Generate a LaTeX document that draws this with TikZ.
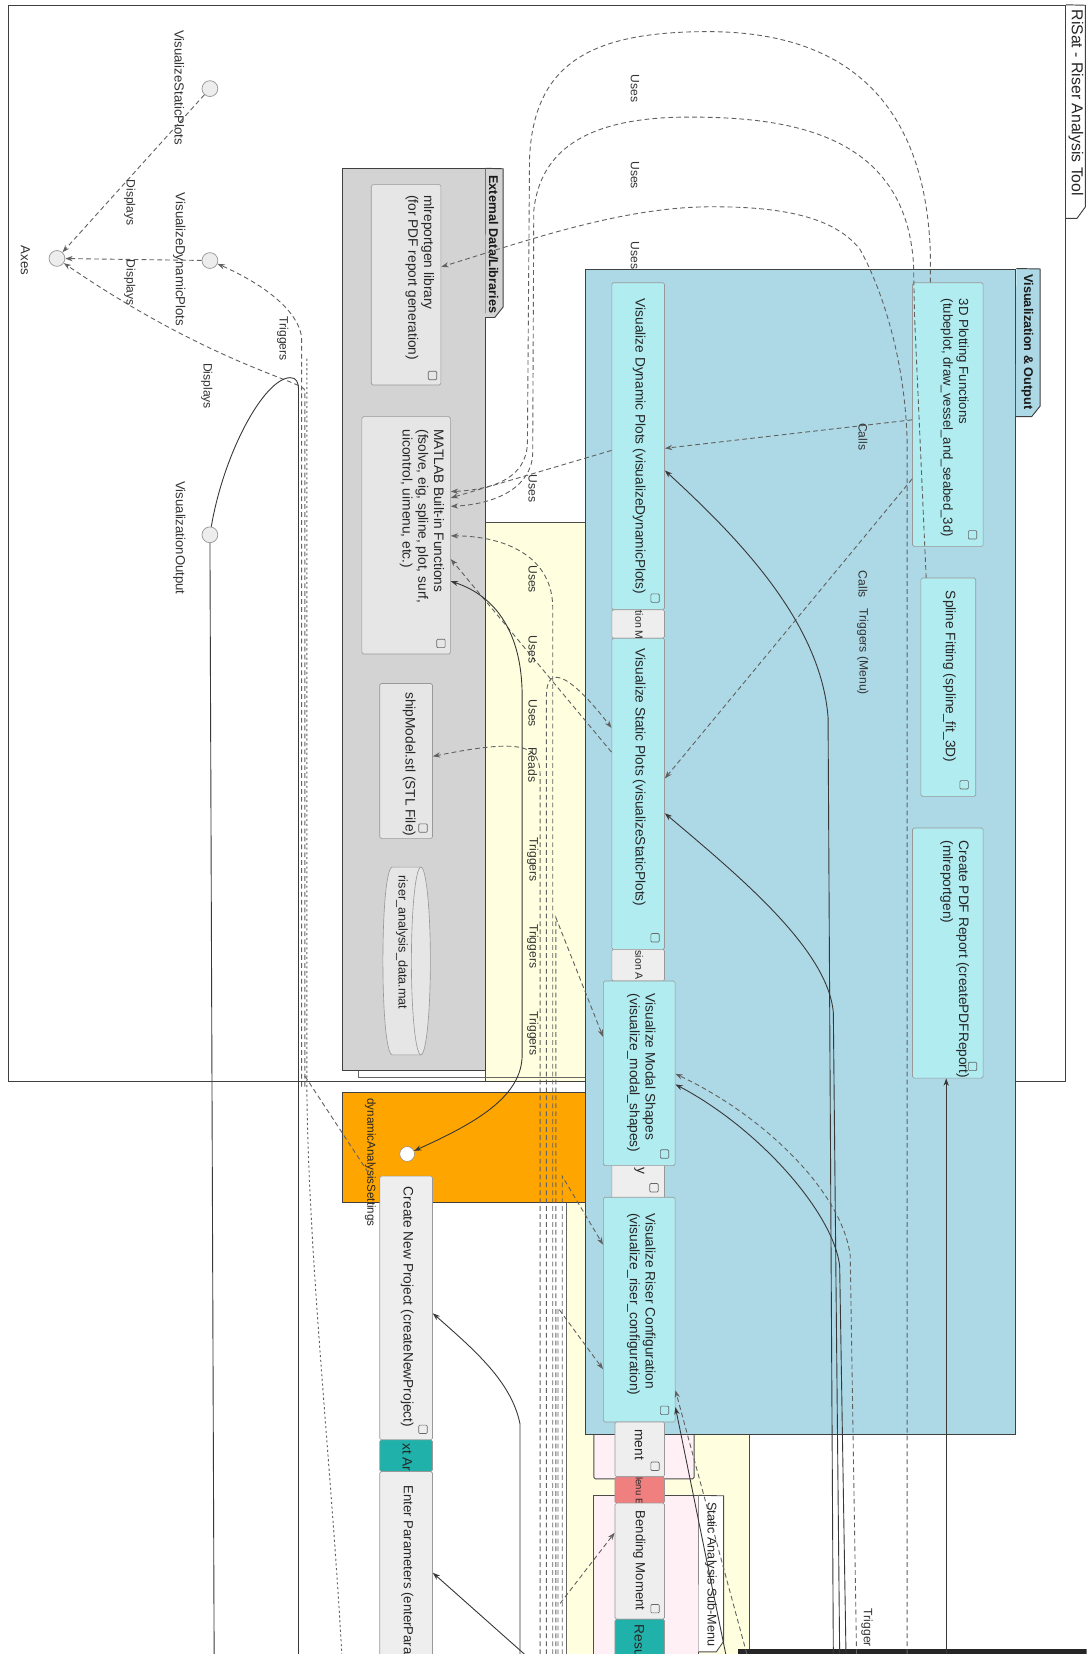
\documentclass[tikz,border=0pt]{standalone}
\usepackage{fontspec}
\setmainfont{Liberation Sans}
\usetikzlibrary{arrows.meta,fit}
\definecolor{pkgblue}{HTML}{ADD8E6}
\definecolor{turq}{HTML}{B0ECF0}
\definecolor{lgray}{HTML}{D3D3D3}
\definecolor{boxgray}{HTML}{E6E6E6}
\definecolor{lyellow}{HTML}{FFFFE0}
\definecolor{orangeb}{HTML}{FFA500}
\definecolor{tealb}{HTML}{20B2AA}
\definecolor{redb}{HTML}{F08080}
\definecolor{pinkb}{HTML}{FFF0F5}
\definecolor{stripg}{HTML}{EEEEEE}
\begin{document}
\begin{tikzpicture}[x=1pt,y=-1pt,
  pkg/.style={draw=black!75, line width=0.9pt},
  cbox/.style={draw=black!40, line width=0.6pt, rounded corners=1.5pt, inner sep=0pt},
  ico/.style={draw=black!60, line width=0.6pt, rounded corners=1pt, minimum size=8pt, inner sep=0pt},
  txt/.style={rotate=-90, anchor=west, align=left, inner sep=0pt, font=\fontsize{13}{15}\selectfont, text=black!85},
  stxt/.style={rotate=-90, anchor=west, inner sep=0pt, font=\fontsize{10}{12}\selectfont, text=black!85},
  lab/.style={rotate=-90, inner sep=0pt, font=\fontsize{11.5}{13}\selectfont, text=black!80},
  ptitle/.style={rotate=-90, anchor=west, inner sep=0pt, font=\bfseries\fontsize{12}{14}\selectfont, text=black!90},
  lolli/.style={circle, draw=black!40, fill=black!7, minimum size=15pt, inner sep=0pt, line width=0.7pt},
  dsh/.style={draw=black!62, dash pattern=on 4.5pt off 3pt, line width=0.85pt},
  dtt/.style={draw=black!62, dash pattern=on 2pt off 2.5pt, line width=0.9pt},
  sol/.style={draw=black!78, line width=0.85pt},
  arr/.style={-{Stealth[length=7pt,width=5pt]}},
  barr/.style={{Stealth[length=7pt,width=5pt]}-{Stealth[length=7pt,width=5pt]}}
]
\useasboundingbox (0,0) rectangle (1030,1568);
\begin{scope}
\clip (0,0) rectangle (1030,1568);
\fill[white] (0,0) rectangle (1030,1568);

% ---------- packages (background) ----------
\node[draw=black!70, line width=0.8pt, fill=lyellow, fit={(460,495) (710,1620)}, inner sep=0pt] (yel) {};
\fill[white] (340,1025) rectangle (555,1036);
\fill[white] (340,1036) rectangle (537,1620);
\node[pkg, fit={(8,5) (1010,1025)}, inner sep=0pt] (frame) {};
\draw[pkg] (frame.north east) -- (1029,5) -- (1029,196) -- (1021,207) -- (1010,207);
\node[txt, font=\fontsize{15}{17}\selectfont] (frameT) at (1020,9) {RiSat - Riser Analysis Tool};
\draw[draw=black!60, line width=0.8pt] (340,1015) -- (340,1021) -- (555,1021);
\draw[draw=black!60, line width=0.8pt] (537,1140) -- (537,1620);

% External Data/Libraries
\node[pkg, fill=lgray, fit={(325,160) (460,1015)}, inner sep=0pt] (ext) {};
\draw[pkg, fill=lgray] (ext.north east) -- (477,160) -- (477,291) -- (469,301) -- (460,301);
\node[ptitle] (extT) at (468,166) {External Data/Libraries};
\node[cbox, fill=boxgray, fit={(352,175) (418,365)}] (mlrep) {};
\node[txt] (mlrepT) at (398,185) {mlreportgen library\\(for PDF report generation)};
\node[ico] (mlrepI) at (410,356) {};
\node[cbox, fill=boxgray, fit={(343,395) (427,620)}] (matlab) {};
\node[txt] (matlabT) at (400,407) {MATLAB Built-in Functions\\(fsolve, eig, spline, plot, surf,\\uicontrol, uimenu, etc.)};
\node[ico] (matlabI) at (418,610) {};
\node[cbox, fill=boxgray, fit={(360,648) (410,795)}] (ship) {};
\node[txt] (shipT) at (388,656) {shipModel.stl (STL File)};
\node[ico] (shipI) at (401,785) {};
\draw[draw=black!40, line width=0.6pt, fill=boxgray] (399,822) -- (372,822) .. controls (360,822) and (360,1000) .. (372,1000) -- (399,1000);
\draw[draw=black!40, line width=0.6pt, fill=boxgray] (399,911) ellipse [x radius=9, y radius=89];
\node[fit={(363,822) (408,1000)}, inner sep=0pt] (riser) {};
\node[txt, font=\fontsize{12}{14}\selectfont] (riserT) at (381,830) {riser\_analysis\_data.mat};

% orange dynamic analysis
\node[pkg, fill=orangeb, fit={(325,1036) (555,1140)}, inner sep=0pt] (orng) {};
\node[txt, font=\fontsize{11}{13}\selectfont] (orngT) at (351,1041) {dynamicAnalysisSettings};
\node[circle, draw=black!50, fill=white, minimum size=14pt, inner sep=0pt] (dynC) at (386,1094) {};

% main menu column
\node[cbox, fill=stripg, fit={(360,1115) (410,1365)}] (cnp) {};
\node[txt] (cnpT) at (386,1125) {Create New Project (createNewProject)};
\node[ico] (cnpI) at (401,1355) {};
\node[cbox, fill=tealb, fit={(360,1365) (410,1395)}] (cnpS) {};
\node[txt] (cnpST) at (386,1368) {xt Ar};
\node[cbox, fill=stripg, fit={(360,1395) (410,1620)}] (enter) {};
\node[txt, font=\fontsize{12.5}{15}\selectfont] (enterT) at (386,1408) {Enter Parameters (enterPara};

% pink packages
\node[draw=black!70, line width=0.8pt, fill=pinkb, rounded corners=1.5pt, fit={(563,1330) (658,1402)}, inner sep=0pt] (pink1) {};

% Visualization & Output
\node[pkg, fill=pkgblue, fit={(555,255) (963,1360)}, inner sep=0pt] (blue) {};
\draw[pkg, fill=pkgblue] (blue.north east) -- (986,255) -- (986,385) -- (978,395) -- (963,395);
\node[ptitle] (blueT) at (974,260) {Visualization \& Output};

\node[cbox, fill=turq, fit={(580,268) (630,578)}] (vdyn) {};
\node[txt] (vdynT) at (606,283) {Visualize Dynamic Plots (visualizeDynamicPlots)};
\node[ico] (vdynI) at (621,567) {};
\node[cbox, fill=stripg, fit={(580,578) (630,605)}] (strip1) {};
\node[stxt] (strip1T) at (606,579) {tion M};
\node[cbox, fill=turq, fit={(580,605) (630,900)}] (vstat) {};
\node[txt] (vstatT) at (606,615) {Visualize Static Plots (visualizeStaticPlots)};
\node[ico] (vstatI) at (621,889) {};
\node[cbox, fill=stripg, fit={(580,900) (630,930)}] (strip2) {};
\node[stxt] (strip2T) at (606,901) {sion A};
\node[cbox, fill=stripg, fit={(580,1100) (630,1137)}] (strip3) {};
\node[txt] (strip3T) at (606,1107) {y};
\node[ico] (strip3I) at (620,1126) {};
\node[cbox, fill=turq, fit={(572,930) (640,1105)}] (vmodal) {};
\node[txt] (vmodalT) at (608,942) {Visualize Modal Shapes\\(visualize\_modal\_shapes)};
\node[ico] (vmodalI) at (630,1094) {};
\node[cbox, fill=turq, fit={(572,1135) (640,1348)}] (vriser) {};
\node[txt] (vriserT) at (608,1150) {Visualize Riser Configuration\\(visualize\_riser\_configuration)};
\node[ico] (vriserI) at (630,1337) {};
\node[cbox, fill=turq, fit={(865,268) (932,518)}] (plot3d) {};
\node[txt, font=\fontsize{12.5}{15}\selectfont] (plot3dT) at (905,283) {3D Plotting Functions\\(tubeplot, draw\_vessel\_and\_seabed\_3d)};
\node[ico] (plot3dI) at (922,507) {};
\node[cbox, fill=turq, fit={(873,548) (925,755)}] (spline) {};
\node[txt] (splineT) at (900,560) {Spline Fitting (spline\_fit\_3D)};
\node[ico] (splineI) at (914,744) {};
\node[cbox, fill=turq, fit={(865,785) (932,1022)}] (pdf) {};
\node[txt] (pdfT) at (905,797) {Create PDF Report (createPDFReport)\\(mlreportgen)};
\node[ico] (pdfI) at (922,1011) {};

% below blue
\node[draw=black!70, line width=0.8pt, fill=pinkb, fit={(563,1418) (662,1620)}, inner sep=0pt] (pink2) {};
\draw[draw=black!70, line width=0.8pt, fill=white] (pink2.north east) -- (686,1418) -- (686,1556) -- (679,1566) -- (662,1566);
\node[txt, font=\fontsize{12}{14}\selectfont] (pink2T) at (674,1424) {Static Analysis Sub-Menu};
\node[cbox, fill=stripg, fit={(583,1348) (630,1400)}] (ment) {};
\node[txt] (mentT) at (606,1355) {ment};
\node[ico] (mentI) at (621,1390) {};
\node[cbox, fill=redb, fit={(583,1400) (630,1425)}] (menuE) {};
\node[stxt, font=\fontsize{9}{11}\selectfont] (menuET) at (606,1400.5) {lenu E};
\node[cbox, fill=stripg, fit={(583,1425) (630,1535)}] (bend) {};
\node[txt, font=\fontsize{12.5}{15}\selectfont] (bendT) at (606,1432) {Bending Moment};
\node[ico] (bendI) at (621,1525) {};
\node[cbox, fill=tealb, fit={(583,1535) (630,1620)}] (resu) {};
\node[txt] (resuT) at (606,1540) {Resu};
\fill[black!85] (700,1563) rectangle (1030,1568);

% lollipops
\node[lolli] (cStatic) at (199,84) {};
\node[lolli] (cDynamic) at (199,247) {};
\node[lolli] (cAxes) at (54,245) {};
\node[lolli] (cVisOut) at (199,507) {};
\node[lab, font=\fontsize{12.5}{14}\selectfont] (cStaticL) at (170,83) {VisualizeStaticPlots};
\node[lab, font=\fontsize{12.5}{14}\selectfont] (cDynamicL) at (170,246) {VisualizeDynamicPlots};
\node[lab, font=\fontsize{12.5}{14}\selectfont] (cAxesL) at (24,247) {Axes};
\node[lab, font=\fontsize{12.5}{14}\selectfont] (cVisOutL) at (170,510) {VisualizationOutput};

% ---------- free ends ----------
\coordinate (fL1) at (286,1030);
\coordinate (fL2) at (289,1030);
\coordinate (fL3) at (283,1568);
\coordinate (fL4) at (203,1568);
\coordinate (fL5) at (324,1568);
\coordinate (fO) at (352,1116);
\coordinate (fP) at (860,1568);
\coordinate (fS1) at (790,1568);
\coordinate (fS2) at (796,1568);
\coordinate (fS3) at (802,1568);
\coordinate (fS4) at (812,1568);
\coordinate (fS5) at (897,1568);
\coordinate (fR1) at (688,1568);
\coordinate (fR2) at (708,1568);
\coordinate (fB1) at (524,1568);
\coordinate (fB2) at (512,1568);
\coordinate (fB3) at (518,1568);
\coordinate (fB4) at (527,1568);
\coordinate (fB5) at (533,1568);
\coordinate (fB6) at (529,1568);
\coordinate (fB7) at (531,1520);
\coordinate (fC1) at (493,1568);
\coordinate (fC2) at (497,1568);

% ---------- connectors ----------
% left side
\draw[dsh, arr] (cStatic) -- (cAxes);
\draw[dsh, arr] (cDynamic) -- (cAxes);
\draw[dsh, arr] (fL1) -- (286,320) .. controls (282,290) and (240,265) .. (cDynamic);
\draw[dsh, arr] (fL2) -- (289,370) .. controls (289,362) and (200,345) .. (cAxes);
\draw[sol] (cVisOut) .. controls (212,430) and (250,359) .. (275,358) .. controls (281,358) and (283,362) .. (283,370) -- (fL3);
\draw[sol] (cVisOut) -- (fL4);
\draw[dsh] (289,1020) -- (fO);
\draw[dtt] (291,340) -- (291,1040) .. controls (293,1200) and (315,1400) .. (fL5);

% top arcs
\draw[dsh, arr] (plot3d.north -| 882,0) -- (882,240) .. controls (876,60) and (760,30) .. (671,30) .. controls (560,30) and (506,60) .. (502,150) -- (500,420) .. controls (499,452) and (470,464) .. (matlab.east |- 0,466);
\draw[dsh, arr] (spline.north -| 878,0) -- (867,300) -- (866,250) .. controls (858,125) and (745,111) .. (653,111) .. controls (560,111) and (512,140) .. (506,200) -- (505,430) .. controls (504,462) and (470,478) .. (matlab.east |- 0,480);
\draw[dsh, arr] (fP) -- (860,420) .. controls (858,330) and (830,262) .. (815,236) .. controls (790,205) and (740,196) .. (675,196) .. controls (590,196) and (500,228) .. (mlrep.east |- 0,253);

% calls
\draw[dsh, arr] (plot3d.west |- 0,398) -- (vdyn.east |- 0,425);
\draw[dsh, arr] (plot3d.west |- 0,454) -- (vstat.east |- 0,738);

% solid curves into visualize boxes
\draw[sol, arr] (fS1) -- (785,680) .. controls (778,590) and (700,510) .. (vdyn.east |- 0,446);
\draw[sol, arr] (fS2) -- (790,960) .. controls (785,900) and (700,830) .. (vstat.east |- 0,771);
\draw[sol, arr] (fS3) -- (796,1200) .. controls (790,1150) and (720,1070) .. (vmodal.east |- 0,1028);
\draw[dsh, arr] (fS4) -- (806,1190) .. controls (798,1130) and (725,1058) .. (vmodal.east |- 0,1018);
\draw[sol, arr] (fS5) -- (pdf.south -| 897,0);
\draw[sol, arr] (fR1) -- (vriser.east |- 0,1334);
\draw[dsh, arr] (fR2) -- (vriser.east |- 0,1318);

% yellow area bundle
\draw[dsh, arr] (vdyn.west |- 0,427) -- (matlab.east |- 0,472);
\draw[dsh, arr] (fB1) -- (524,575) .. controls (523,525) and (475,508) .. (matlab.east |- 0,508);
\draw[dsh, arr] (vstat.west |- 0,713) -- (matlab.east |- 0,530);
\draw[dsh, arr] (fB2) -- (512,735) .. controls (512,706) and (495,700) .. (ship.east |- 0,717);
\draw[dsh, arr] (fB3) -- (518,660) .. controls (518,625) and (545,645) .. (vstat.west |- 0,690);
\draw[dsh, arr] (fB4) -- (527,870) -- (vmodal.west |- 0,983);
\draw[dsh, arr] (fB5) -- (533,1115) -- (vriser.west |- 0,1180);
\draw[dsh, arr] (fB6) -- (529,1240) -- (vriser.west |- 0,1298);
\draw[dsh, arr] (fB7) -- (bend.west |- 0,1453);
\draw[sol, barr] (matlab.east |- 0,551) .. controls (470,565) and (495,600) .. (495,660) -- (495,1000) .. controls (495,1040) and (450,1065) .. (dynC);
\draw[sol, arr] (fC1) -- (493,1350) .. controls (485,1310) and (450,1280) .. (cnp.east |- 0,1245);
\draw[sol, arr] (fC2) -- (enter.east |- 0,1491);

% ---------- connector labels ----------
\node[lab] (l1) at (123,192) {Displays};
\node[lab] (l2) at (123,268) {Displays};
\node[lab] (l3) at (196,366) {Displays};
\node[lab] (l4) at (268,321) {Triggers};
\node[lab] (l5) at (602,84) {Uses};
\node[lab] (l6) at (602,166) {Uses};
\node[lab] (l7) at (602,242) {Uses};
\node[lab] (l8) at (818,414) {Calls};
\node[lab] (l9) at (818,554) {Calls};
\node[lab] (l10) at (818,618) {Triggers (Menu)};
\node[lab] (l11) at (505,463) {Uses};
\node[lab] (l12) at (505,549) {Uses};
\node[lab] (l13) at (505,616) {Uses};
\node[lab] (l14) at (505,676) {Uses};
\node[lab] (l15) at (505,725) {Reads};
\node[lab] (l16) at (505,815) {Triggers};
\node[lab] (l17) at (505,897) {Triggers};
\node[lab] (l18) at (505,980) {Triggers};
\node[lab, anchor=west] (l19) at (822,1525) {Trigger};
\end{scope}
\end{tikzpicture}
\end{document}
